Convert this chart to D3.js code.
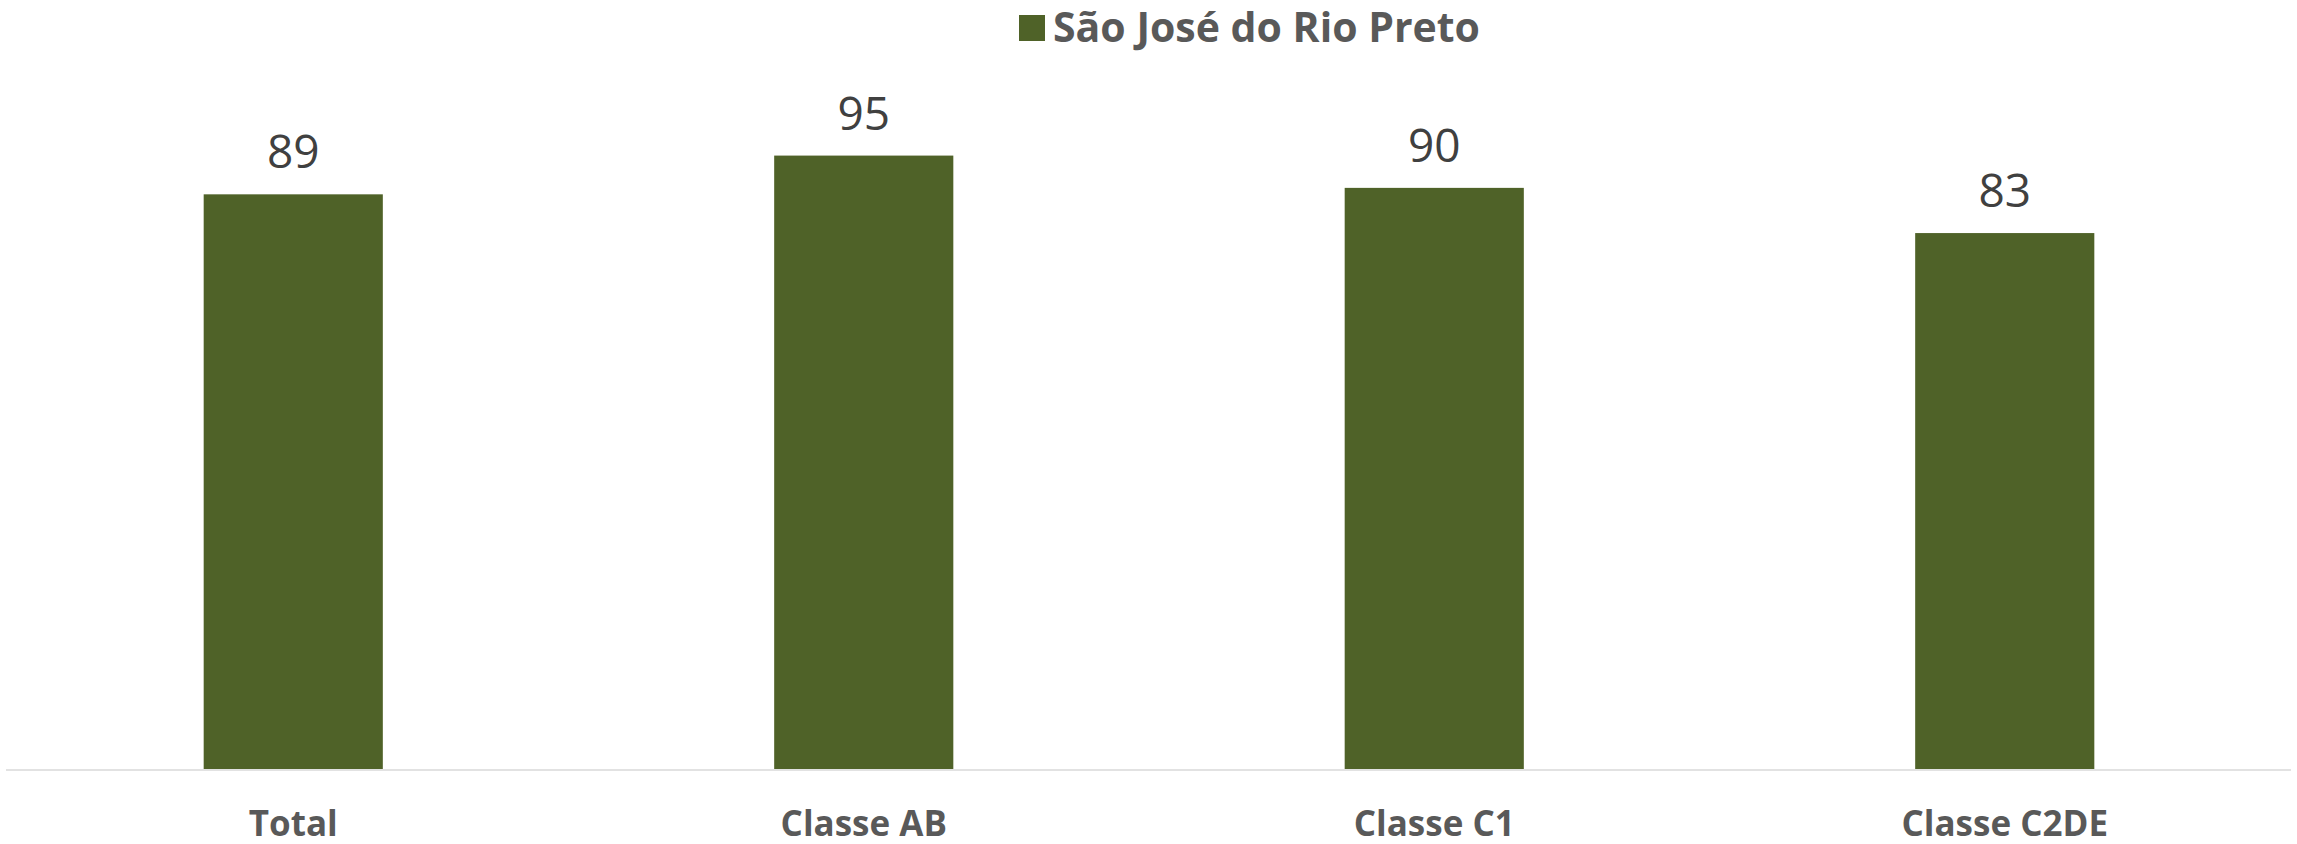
<!DOCTYPE html>
<html lang="pt">
<head>
<meta charset="UTF-8">
<title>São José do Rio Preto</title>
<script src="https://cdn.jsdelivr.net/npm/d3@7"></script>
<style>
  body { margin: 0; background: #fff; }
</style>
</head>
<body>
<div id="chart"></div>
<script>
// data
var categories = ["Total", "Classe AB", "Classe C1", "Classe C2DE"];
var values = [89, 95, 90, 83];
var seriesName = "São José do Rio Preto";

var W = 2297, H = 844;
var baseline = 769;

var svg = d3.select("#chart").append("svg")
    .attr("width", W)
    .attr("height", H);

var x = d3.scaleBand()
    .domain(categories)
    .range([8, 2290])
    .paddingInner(0.686)
    .paddingOuter(0.343);

var y = d3.scaleLinear()
    .domain([0, 100])
    .range([baseline, 123.3]);

// bars
svg.append("g").selectAll("rect")
    .data(values)
    .enter().append("rect")
    .attr("x", function(d, i) { return x(categories[i]); })
    .attr("y", function(d) { return y(d); })
    .attr("width", x.bandwidth())
    .attr("height", function(d) { return baseline - y(d); })
    .attr("fill", "#4f6228");

// value labels
svg.append("g").selectAll("text")
    .data(values)
    .enter().append("text")
    .attr("x", function(d, i) { return x(categories[i]) + x.bandwidth() / 2; })
    .attr("y", function(d) { return y(d) - 26; })
    .attr("text-anchor", "middle")
    .style("font-family", "'Open Sans', sans-serif")
    .style("font-size", "46px")
    .style("fill", "#404040")
    .text(function(d) { return d; });

// x axis
var xAxis = svg.append("g")
    .attr("transform", "translate(0," + 770 + ")")
    .call(d3.axisBottom(x).tickSize(0).tickPadding(0).tickSizeOuter(0));
xAxis.select(".domain")
    .attr("d", "M6,0H2291")
    .attr("stroke", "#d9d9d9")
    .attr("stroke-width", 1.5);
xAxis.selectAll("text")
    .attr("y", 66)
    .attr("dy", null)
    .style("font-family", "'Open Sans', sans-serif")
    .style("font-size", "35px")
    .style("font-weight", "bold")
    .style("fill", "#595959");

// legend
var legend = svg.append("g");
legend.append("rect")
    .attr("x", 1019).attr("y", 15)
    .attr("width", 26).attr("height", 26)
    .attr("fill", "#4f6228");
legend.append("text")
    .attr("x", 1053).attr("y", 41.5)
    .style("font-family", "'Open Sans', sans-serif")
    .style("font-size", "41px")
    .style("font-weight", "bold")
    .style("fill", "#595959")
    .text(seriesName);
</script>
</body>
</html>
